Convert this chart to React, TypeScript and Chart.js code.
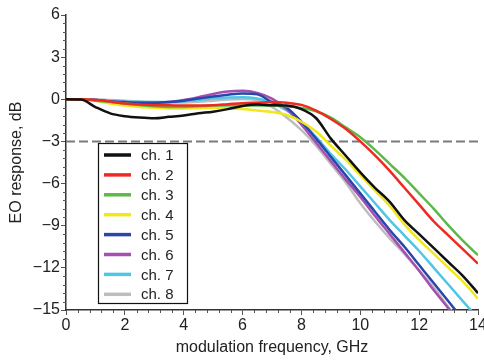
import { useEffect, useRef } from 'react';
import { Chart, registerables } from 'chart.js';

Chart.register(...registerables);

// ---- data ----
const frequencyGHz = [0, 0.5, 1, 1.5, 2, 2.5, 3, 3.5, 4, 4.5, 5, 5.5, 6, 6.5, 7, 7.5, 8, 8.5, 9, 9.5, 10, 10.5, 11, 11.5, 12, 12.5, 13, 13.5, 14];

const ch1 = [0, -0.02, -0.55, -1.0, -1.2, -1.3, -1.35, -1.25, -1.15, -1.0, -0.88, -0.7, -0.48, -0.38, -0.42, -0.45, -0.7, -1.35, -2.8, -4.0, -5.2, -6.3, -7.3, -8.6, -9.6, -10.6, -11.6, -12.6, -13.8];
const ch2 = [0, 0, -0.05, -0.15, -0.3, -0.38, -0.42, -0.43, -0.45, -0.45, -0.42, -0.35, -0.28, -0.24, -0.2, -0.25, -0.4, -0.8, -1.4, -2.1, -3.0, -4.0, -5.1, -6.3, -7.5, -8.7, -9.7, -10.7, -11.7];
const ch3 = [0, 0, -0.1, -0.2, -0.3, -0.4, -0.5, -0.55, -0.55, -0.5, -0.45, -0.45, -0.45, -0.45, -0.45, -0.5, -0.62, -0.85, -1.3, -2.0, -2.7, -3.6, -4.6, -5.6, -6.7, -7.8, -9.0, -10.1, -11.1];
const ch4 = [0, 0, -0.1, -0.3, -0.45, -0.55, -0.6, -0.65, -0.65, -0.63, -0.6, -0.63, -0.7, -0.8, -0.9, -1.12, -1.6, -2.3, -3.3, -4.3, -5.4, -6.5, -7.6, -8.9, -10.0, -11.0, -12.0, -13.0, -14.2];
const ch5 = [0, 0, -0.05, -0.15, -0.2, -0.25, -0.25, -0.2, -0.1, 0.05, 0.2, 0.33, 0.42, 0.35, -0.2, -0.6, -1.6, -2.8, -4.1, -5.4, -6.7, -8.0, -9.3, -10.5, -11.8, -13.1, -14.4, -15.7, -17.0];
const ch6 = [0, 0, -0.05, -0.15, -0.2, -0.25, -0.25, -0.2, -0.05, 0.15, 0.38, 0.55, 0.6, 0.45, 0.05, -0.7, -1.8, -3.1, -4.4, -5.7, -6.95, -8.3, -9.6, -10.9, -12.2, -13.6, -14.9, -16.2, -17.5];
const ch7 = [0, 0, -0.05, -0.1, -0.15, -0.18, -0.2, -0.2, -0.15, -0.05, 0.05, 0.12, 0.15, 0.05, -0.25, -0.8, -1.6, -2.7, -3.9, -5.0, -6.2, -7.4, -8.6, -9.7, -10.8, -12.0, -13.2, -14.4, -15.6];
const ch8 = [0, 0, 0, -0.05, -0.1, -0.15, -0.2, -0.22, -0.22, -0.18, -0.1, -0.02, 0.02, -0.07, -0.55, -1.3, -2.2, -3.3, -4.6, -5.9, -7.4, -8.7, -9.9, -11.0, -12.2, -13.4, -14.8, -16.1, -17.4];

const channelSeries = [ch1, ch2, ch3, ch4, ch5, ch6, ch7, ch8];
const channelLabels = ['ch. 1', 'ch. 2', 'ch. 3', 'ch. 4', 'ch. 5', 'ch. 6', 'ch. 7', 'ch. 8'];
const channelColors = ['#111111', '#ee2a22', '#5cb947', '#f0e81a', '#2a46a8', '#a54fb0', '#4fc6e6', '#bdbdbd'];

const thresholdDb = -3;
const xRange = [0, 14];
const yRange = [-15, 6];

const FONT_FAMILY = '"Liberation Sans", Arial, Helvetica, sans-serif';

const minorTicksPlugin = {
  id: 'minorTicks',
  afterDraw(chart: any) {
    const { ctx, chartArea, scales } = chart;
    ctx.save();
    ctx.strokeStyle = '#555';
    ctx.lineWidth = 1;
    ctx.beginPath();
    for (let k = 0; k <= 35; k++) {
      if (k % 5 === 0) continue;
      const v = yRange[0] + k * 0.6;
      const py = Math.round(scales.y.getPixelForValue(v)) + 0.5;
      ctx.moveTo(chartArea.left - 3, py);
      ctx.lineTo(chartArea.left, py);
    }
    for (let k = 0; k <= 35; k++) {
      if (k % 5 === 0) continue;
      const v = xRange[0] + k * 0.4;
      const px = Math.round(scales.x.getPixelForValue(v)) + 0.5;
      ctx.moveTo(px, chartArea.bottom);
      ctx.lineTo(px, chartArea.bottom + 3);
    }
    ctx.stroke();
    ctx.restore();
  },
};

const boxLegendPlugin = {
  id: 'boxLegend',
  afterDraw(chart: any) {
    const { ctx } = chart;
    const left = 98.5;
    const top = 143.5;
    const width = 89;
    const height = 160;
    ctx.save();
    ctx.fillStyle = '#ffffff';
    ctx.fillRect(left, top, width, height);
    ctx.strokeStyle = '#111';
    ctx.lineWidth = 1.2;
    ctx.strokeRect(left, top, width, height);
    ctx.font = `15px ${FONT_FAMILY}`;
    ctx.textBaseline = 'middle';
    ctx.textAlign = 'left';
    chart.data.datasets.slice(0, channelLabels.length).forEach((ds: any, i: number) => {
      const cy = 155 + i * 19.9;
      ctx.strokeStyle = ds.borderColor;
      ctx.lineWidth = 3.5;
      ctx.beginPath();
      ctx.moveTo(104, cy);
      ctx.lineTo(131, cy);
      ctx.stroke();
      ctx.fillStyle = '#222';
      ctx.fillText(ds.label, 141, cy + 1);
    });
    ctx.restore();
  },
};

const minusFormat = (v: any) => {
  const n = Number(v);
  return n < 0 ? '\u2212' + String(Math.abs(n)) : String(n);
};

export default function App() {
  const canvasRef = useRef<HTMLCanvasElement | null>(null);

  useEffect(() => {
    document.body.style.margin = '0';
    const canvas = canvasRef.current;
    if (!canvas) return;

    const datasets: any[] = channelSeries.map((series, i) => ({
      label: channelLabels[i],
      data: frequencyGHz.map((f, j) => ({ x: f, y: series[j] })),
      borderColor: channelColors[i],
      backgroundColor: channelColors[i],
      borderWidth: 2.5,
      pointRadius: 0,
      cubicInterpolationMode: 'monotone',
      fill: false,
    }));
    datasets.push({
      label: '-3 dB',
      data: [
        { x: xRange[0], y: thresholdDb },
        { x: xRange[1], y: thresholdDb },
      ],
      borderColor: '#7a7a7a',
      borderWidth: 2,
      borderDash: [9, 4],
      pointRadius: 0,
      fill: false,
    });

    const tickFont = { family: FONT_FAMILY, size: 16 };

    const chart = new Chart(canvas, {
      type: 'line',
      data: { datasets },
      options: {
        responsive: false,
        animation: false,
        layout: { padding: { top: 15, right: 6, left: 0, bottom: 0 } },
        plugins: {
          legend: { display: false },
          tooltip: { enabled: false },
        },
        scales: {
          x: {
            type: 'linear',
            min: xRange[0],
            max: xRange[1],
            ticks: { stepSize: 2, font: tickFont, color: '#222', padding: 1, callback: minusFormat },
            grid: { drawOnChartArea: false, drawTicks: true, tickLength: 5, color: '#555', lineWidth: 1 },
            border: { display: true, color: '#333', width: 1.5 },
            title: {
              display: true,
              text: 'modulation frequency, GHz',
              font: tickFont,
              color: '#222',
              padding: { top: 0, bottom: 3 },
            },
            afterFit(scale: any) {
              scale.height = 50;
              scale.paddingLeft = 0;
              scale.paddingRight = 0;
            },
          },
          y: {
            type: 'linear',
            min: yRange[0],
            max: yRange[1],
            ticks: { stepSize: 3, font: tickFont, color: '#222', padding: 1, callback: minusFormat },
            grid: { drawOnChartArea: false, drawTicks: true, tickLength: 5, color: '#555', lineWidth: 1 },
            border: { display: true, color: '#333', width: 1.5 },
            title: {
              display: true,
              text: 'EO response, dB',
              font: tickFont,
              color: '#222',
              padding: { top: 7, bottom: 0 },
            },
            afterFit(scale: any) {
              scale.width = 66;
              scale.paddingTop = 0;
              scale.paddingBottom = 0;
            },
          },
        },
      } as any,
      plugins: [minorTicksPlugin, boxLegendPlugin],
    });

    return () => chart.destroy();
  }, []);

  return (
    <div style={{ position: 'absolute', left: 0, top: 0, width: 484, height: 360, background: '#fff' }}>
      <canvas ref={canvasRef} width={484} height={360} />
    </div>
  );
}
